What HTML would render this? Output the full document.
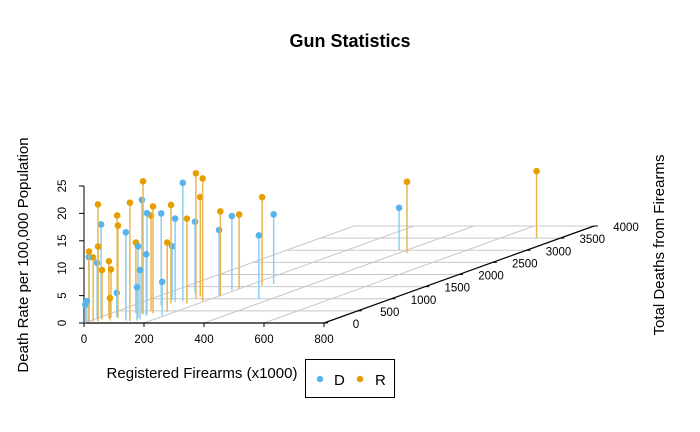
<!DOCTYPE html>
<html><head><meta charset="utf-8"><style>
html,body{margin:0;padding:0;background:#fff;}
svg{display:block;font-family:"Liberation Sans",sans-serif;}
</style></head><body>
<svg id="chart" width="700" height="432" viewBox="0 0 700 432" xmlns="http://www.w3.org/2000/svg">
<text x="350" y="47" text-anchor="middle" font-size="18" font-weight="bold">Gun Statistics</text>
<text transform="translate(28,255) rotate(-90)" text-anchor="middle" font-size="15">Death Rate per 100,000 Population</text>
<text transform="translate(664,245) rotate(-90)" text-anchor="middle" font-size="15">Total Deaths from Firearms</text>
<text x="202" y="378" text-anchor="middle" font-size="15">Registered Firearms (x1000)</text>
<g id="grid"></g>
<g id="axes"></g>
<g id="marks"></g>
<g>
<rect x="305.5" y="359.5" width="89" height="38" fill="#fff" stroke="#000" stroke-width="1"/>
<circle cx="320" cy="379" r="3.2" fill="#56B4E9"/>
<text x="334" y="385" font-size="15">D</text>
<circle cx="360" cy="379" r="3.2" fill="#E69F00"/>
<text x="375" y="385" font-size="15">R</text>
</g>
</svg>
<script>
const xTicks = [0, 200, 400, 600, 800];
const yTicks = [0, 500, 1000, 1500, 2000, 2500, 3000, 3500, 4000];
const zTicks = [0, 5, 10, 15, 20, 25];
const dFirearms = [2,5,5,10,12,53,117,103,135,153,154,140,131,100,193,80,108,127,91,203,187,360,270,373];
const dDeaths = [10,20,50,150,200,250,100,400,200,150,100,300,350,700,300,950,870,900,1240,1100,1360,990,1610,3010];
const dRate = [3.3,3.9,11.8,10.3,17.1,4.4,16.1,20.7,13.1,9.0,6.1,11.2,18.5,16.9,6.2,9.8,15.2,21.6,13.0,12.1,13.5,11.6,12.7,7.7];
const rFirearms = [10,17,24,29,26,38,45,64,43,68,135,83,118,111,140,176,110,163,148,193,140,207,202,245,427,720];
const rDeaths = [30,60,100,80,150,200,200,100,300,200,80,400,350,500,400,450,800,800,1000,900,1100,1100,1400,1550,2887,3505];
const rRate = [12.9,11.7,21.2,13.6,9.0,10.4,8.9,4.1,18.3,16.9,21.6,12.9,24.3,17.4,19.5,12.7,18.0,15.5,22.9,22.4,18.1,15.5,13.6,16.1,13,12.2];

const NS = "http://www.w3.org/2000/svg";
function px(x, d){ return 84 + x*0.3 + d*0.0675; }
function py(d, z){ return 323 - d*0.02425 - z*5.48; }
function mk(tag, attrs, parent){
  const e = document.createElementNS(NS, tag);
  for (const k in attrs) e.setAttribute(k, attrs[k]);
  parent.appendChild(e); return e;
}
const grid = document.getElementById('grid');
const axes = document.getElementById('axes');
const marks = document.getElementById('marks');

yTicks.forEach(d => {
  const l = mk('line', {x1:px(0,d), y1:py(d,0), x2:px(800,d), y2:py(d,0), stroke:'#c8c8c8', 'stroke-width':1}, grid);
  
  
});
xTicks.forEach(x => {
  const l = mk('line', {x1:px(x,0), y1:py(0,0), x2:px(x,4000), y2:py(4000,0), stroke:'#c8c8c8', 'stroke-width':1}, grid);
  
  
});

let a = mk('line', {x1:px(0,0), y1:323, x2:px(800,0), y2:323, stroke:'#000', 'stroke-width':1.2}, axes);


xTicks.forEach(x => {
  const t = mk('line', {x1:px(x,0), y1:323, x2:px(x,0), y2:327, stroke:'#000'}, axes);
  
  
  const tx = mk('text', {x:px(x,0), y:343, 'text-anchor':'middle', 'font-size':11.5}, axes);
  tx.textContent = x;
  
  
});
a = mk('line', {x1:px(800,0), y1:py(0,0), x2:px(800,4000), y2:py(4000,0), stroke:'#000', 'stroke-width':1.2}, axes);


yTicks.forEach(d => {
  const x0 = px(800,d), y0 = py(d,0);
  const t = mk('line', {x1:x0, y1:y0, x2:x0+4, y2:y0, stroke:'#000'}, axes);
  
  
  const tx = mk('text', {x:x0+32, y:y0+5, 'text-anchor':'middle', 'font-size':11.5}, axes);
  tx.textContent = d;
  
  
});
a = mk('line', {x1:84, y1:py(0,0), x2:84, y2:py(0,25), stroke:'#555', 'stroke-width':1.5}, axes);


zTicks.forEach(z => {
  const y0 = py(0,z);
  const t = mk('line', {x1:79, y1:y0, x2:84, y2:y0, stroke:'#000'}, axes);
  
  
  const tx = mk('text', {'text-anchor':'middle', 'font-size':11.5, transform:'translate(66,'+y0+') rotate(-90)'}, axes);
  tx.textContent = z;
  
  
});

const pts = [];
dFirearms.forEach((x,i) => pts.push({x:x, d:dDeaths[i], z:dRate[i], c:'#56B4E9', s:'#8fcdf0', n:'point-d'}));
rFirearms.forEach((x,i) => pts.push({x:x, d:rDeaths[i], z:rRate[i], c:'#E69F00', s:'#eab550', n:'point-r'}));
pts.sort((p,q) => q.d - p.d);
pts.forEach(p => {
  const sx = px(p.x, p.d);
  const s = mk('line', {x1:sx, y1:py(p.d,0), x2:sx, y2:py(p.d,p.z), stroke:p.s, 'stroke-width':1.5}, marks);
  
  
  const c = mk('circle', {cx:sx, cy:py(p.d,p.z), r:3.3, fill:p.c}, marks);
  
  
});
</script>
</body></html>
